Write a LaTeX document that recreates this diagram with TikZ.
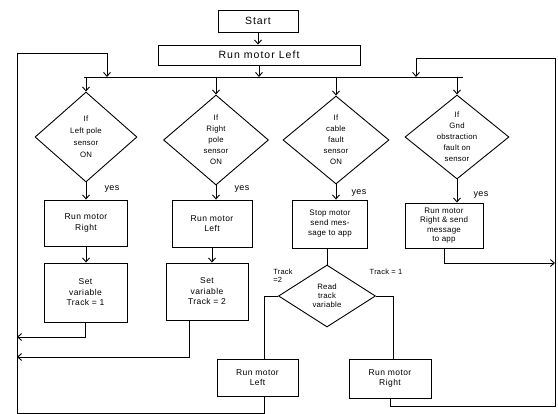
\documentclass[tikz,border=0pt]{standalone}
\usepackage{fontspec}
\setmainfont{Liberation Sans}
\usetikzlibrary{shapes.geometric,arrows.meta}
\begin{document}
\begin{tikzpicture}[x=1pt,y=-1pt,
  line width=0.9pt,
  box/.style={draw, rectangle, inner sep=1pt, align=center, font=\fontsize{8.5}{10.5}\selectfont\addfontfeatures{LetterSpace=5}},
  dec/.style={draw, diamond, inner sep=-2pt, align=center, font=\fontsize{7.8}{12}\selectfont\addfontfeatures{LetterSpace=3}},
  arr/.style={-{Straight Barb[length=4pt,width=7pt]}},
  lbl/.style={font=\fontsize{9}{9.5}\selectfont\addfontfeatures{LetterSpace=5}, inner sep=0pt, align=left}]
\useasboundingbox (0,0) rectangle (558,414);

% top
\node[box, minimum width=80pt, minimum height=22pt, font=\fontsize{10.5}{12}\selectfont\addfontfeatures{LetterSpace=8}] (start) at (258,21) {Start};
\node[box, minimum width=202pt, minimum height=20pt, font=\fontsize{10.5}{12}\selectfont\addfontfeatures{LetterSpace=10}] (runL) at (259,55) {Run motor Left};

% decisions
\node[dec, minimum width=102pt, minimum height=90pt] (d1) at (86,137) {If\\Left pole\\sensor\\ON};
\node[dec, minimum width=105pt, minimum height=90pt, inner sep=-5pt, font=\fontsize{7.8}{11}\selectfont\addfontfeatures{LetterSpace=3}] (d2) at (216,140) {If\\Right\\pole\\sensor\\ON};
\node[dec, minimum width=106pt, minimum height=88pt, inner sep=-5pt, font=\fontsize{7.8}{11}\selectfont\addfontfeatures{LetterSpace=3}] (d3) at (336,140) {If\\cable\\fault\\sensor\\ON};
\node[dec, minimum width=104pt, minimum height=84pt, inner sep=-8pt, font=\fontsize{7.8}{11}\selectfont\addfontfeatures{LetterSpace=3}] (d4) at (457,137) {If\\Gnd\\obstraction\\fault on\\sensor};

% actions
\node[box, minimum width=83pt, minimum height=46pt] (r1) at (86,223) {Run motor\\Right};
\node[box, minimum width=80pt, minimum height=47pt] (r2) at (212,223.5) {Run motor\\Left};
\node[box, minimum width=75pt, minimum height=48pt, font=\fontsize{8}{10}\selectfont\addfontfeatures{LetterSpace=3}] (r3) at (330,224) {Stop motor\\send mes-\\sage to app};
\node[box, minimum width=78pt, minimum height=45pt, font=\fontsize{8}{9.5}\selectfont\addfontfeatures{LetterSpace=3}] (r4) at (444,225.5) {Run motor\\Right \& send\\message\\to app};

\node[box, minimum width=83pt, minimum height=59pt] (s1) at (85.5,292.5) {Set\\variable\\Track = 1};
\node[box, minimum width=82pt, minimum height=57pt] (s2) at (207,291.5) {Set\\variable\\Track = 2};

\node[dec, minimum width=97pt, minimum height=62pt, inner sep=0pt, font=\fontsize{7.8}{9}\selectfont\addfontfeatures{LetterSpace=3}] (rd) at (327,296) {Read\\track\\variable};

\node[box, minimum width=81pt, minimum height=37pt] (bl) at (257.5,377.5) {Run motor\\Left};
\node[box, minimum width=82pt, minimum height=39pt] (br) at (390,378.5) {Run motor\\Right};

% labels
\node[lbl] (y1) at (112,189) {yes};
\node[lbl] (y2) at (242,189) {yes};
\node[lbl] (y3) at (359,193) {yes};
\node[lbl] (y4) at (481,195) {yes};
\node[lbl, font=\fontsize{7.5}{8}\selectfont\addfontfeatures{LetterSpace=3}] (t2) at (283,276) {Track\\=2};
\node[lbl, font=\fontsize{7.5}{8}\selectfont\addfontfeatures{LetterSpace=3}] (t1) at (386,272) {Track = 1};

% coordinates for bus and loops
\coordinate (busL) at (84,77);
\coordinate (busR) at (463,77);
\coordinate (lt) at (17,53);
\coordinate (lb) at (17,413);
\coordinate (lj) at (107,53);
\coordinate (rt) at (555,58);
\coordinate (rb) at (555,406);
\coordinate (rj) at (416,58);
\coordinate (a1) at (17,337);
\coordinate (a2) at (17,357);
\coordinate (a4) at (555,263);

% connectors
\draw[arr] (start.south) -- (start.south |- runL.north);
\draw[arr] (runL.south) -- (runL.south |- busL);
\draw (busL) -- (busR);
\draw[arr] (d1.north |- busL) -- (d1.north);
\draw[arr] (d2.north |- busL) -- (d2.north);
\draw[arr] (d3.north |- busL) -- (d3.north);
\draw[arr] (d4.north |- busL) -- (d4.north);

\draw[arr] (d1.south) -- (d1.south |- r1.north);
\draw[arr] (d2.south) -- (d2.south |- r2.north);
\draw[arr] (d3.south) -- (d3.south |- r3.north);
\draw[arr] (d4.south) -- (d4.south |- r4.north);

\draw[arr] (r1.south) -- (r1.south |- s1.north);
\draw[arr] (r2.south) -- (r2.south |- s2.north);
\draw (r3.south -| rd.north) -- (rd.north);

\draw[arr] (s1.south) |- (a1);
\draw[arr] ([xshift=-18pt]s2.south) |- (a2);
\draw[arr] (r4.south) |- (a4);

\draw (rd.west) -| ([xshift=7pt]bl.north);
\draw (rd.east) -| ([xshift=3pt]br.north);

\draw[arr] ([xshift=7pt]bl.south) |- (lb) -- (lt) -- (lj) -- (lj |- busL);
\draw[arr] (br.south) |- (rb) -- (rt) -- (rj) -- (rj |- busL);
\end{tikzpicture}
\end{document}
